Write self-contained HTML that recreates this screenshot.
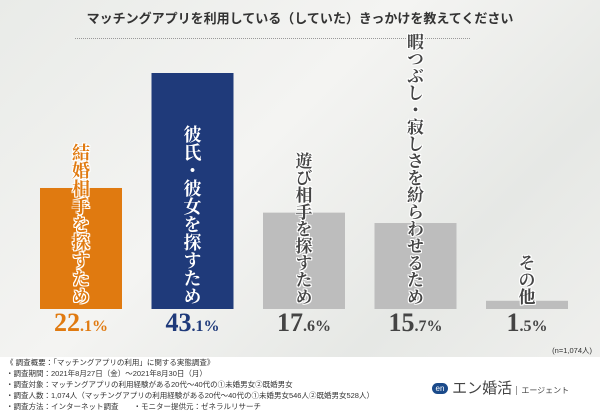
<!DOCTYPE html>
<html><head><meta charset="utf-8"><style>
body{margin:0;width:600px;height:415px;overflow:hidden;font-family:"Liberation Sans","Noto Sans CJK JP",sans-serif;}
#wrap{position:relative;width:600px;height:415px;background:linear-gradient(135deg,#e9ebe8,#f4f4f2 40%,#e6e8e5 70%,#f1f1ef);}
.title{position:absolute;left:0;width:600px;top:8px;text-align:center;font-size:13px;font-weight:bold;color:#333;}
.dots{position:absolute;left:75px;width:395px;top:38px;border-top:1px dotted #999;}
.lbl{position:absolute;writing-mode:vertical-rl;font-family:"Noto Serif CJK SC","Noto Sans CJK JP",serif;font-weight:bold;letter-spacing:0;line-height:1;text-shadow:1px 0 0 #fff,-1px 0 0 #fff,0 1px 0 #fff,0 -1px 0 #fff,1px 1px 0 #fff,-1px -1px 0 #fff,1px -1px 0 #fff,-1px 1px 0 #fff;}
.val{position:absolute;top:308px;width:100px;text-align:center;font-family:"Liberation Serif",serif;font-size:26px;font-weight:bold;}
.val small{font-size:16px;}
.foot{position:absolute;left:0;top:357px;width:600px;height:58px;background:#fff;}
.foot div{font-size:7.5px;color:#333;line-height:11px;margin-left:6px;}
</style></head><body>
<div id="wrap">
<div class="title">マッチングアプリを利用している（していた）きっかけを教えてください</div>
<div class="dots"></div>
<svg id="svg" width="600" height="415" style="position:absolute;left:0;top:0"></svg>
<div id="labels"></div>
<div style="position:absolute;right:8px;top:345px;font-size:7.5px;color:#333">(n=1,074人)</div>
<div class="foot">
<div>《 調査概要：「マッチングアプリの利用」に関する実態調査》</div>
<div>・調査期間：2021年8月27日（金）～2021年8月30日（月）</div>
<div>・調査対象：マッチングアプリの利用経験がある20代～40代の①未婚男女②既婚男女</div>
<div>・調査人数：1,074人（マッチングアプリの利用経験がある20代～40代の①未婚男女546人②既婚男女528人）</div>
<div>・調査方法：インターネット調査　　・モニター提供元：ゼネラルリサーチ</div>
<span style="position:absolute;left:432px;top:20px;font-size:15px;color:#444"><span style="display:inline-block;width:16px;height:11px;border-radius:6px;background:#1a4a8a;color:#fff;font-size:8px;text-align:center;line-height:11px;vertical-align:2px">en</span> エン婚活 <span style="font-size:8px;border-left:1px solid #999;padding-left:4px">エージェント</span></span>
</div>
</div>
<script>
const categories=["結婚相手を探すため","彼氏・彼女を探すため","遊び相手を探すため","暇つぶし・寂しさを紛らわせるため","その他"];
const values=[22.1,43.1,17.6,15.7,1.5];
const colors=["#e07a10","#1f3a7a","#bdbdbd","#bdbdbd","#bdbdbd"];
const labelColors=["#e07a10","#ffffff","#444","#444","#444"];
const valColors=["#e07a10","#1f3a7a","#444","#444","#444"];
const base=309,scale=236/43.1;
const y=v=>base-v*scale;
const x=i=>40+i*111.5;
const svg=document.getElementById('svg'),L=document.getElementById('labels');
values.forEach((v,i)=>{
 const r=document.createElementNS('http://www.w3.org/2000/svg','rect');
 r.setAttribute('x',x(i));r.setAttribute('y',y(v));r.setAttribute('width',82);r.setAttribute('height',base-y(v));r.setAttribute('fill',colors[i]);
 
 
 svg.appendChild(r);
 const fs=i==3?17:(i<2?18:17);
 const t=document.createElement('div');t.className='lbl';t.textContent=categories[i];
 t.style.fontSize=fs+'px';
 t.style.color=labelColors[i];
 if(i==1)t.style.textShadow='none';
 t.style.left=(x(i)+41-fs/2)+'px';
 t.style.bottom=(415-305)+'px';
 
 
 L.appendChild(t);
 const s=String(v).split('.');
 const d=document.createElement('div');d.className='val';d.style.left=(x(i)-9)+'px';d.style.color=valColors[i];
 d.innerHTML=s[0]+'<small>.'+s[1]+'%</small>';
 
 
 L.appendChild(d);
});
</script>
</body></html>
